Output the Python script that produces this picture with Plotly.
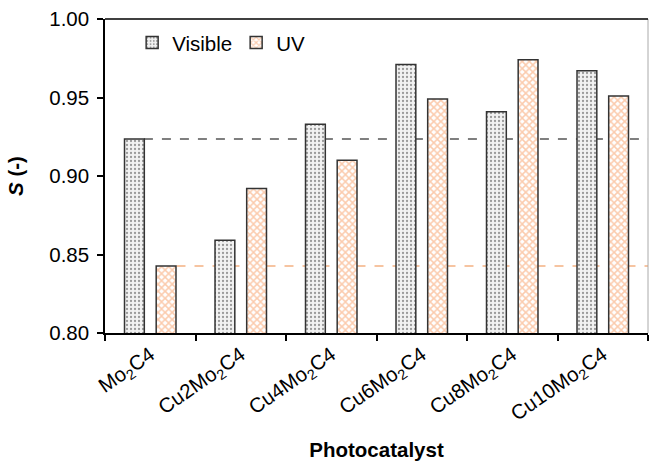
import plotly.graph_objects as go

categories = ["Mo<sub>2</sub>C4", "Cu2Mo<sub>2</sub>C4", "Cu4Mo<sub>2</sub>C4",
              "Cu6Mo<sub>2</sub>C4", "Cu8Mo<sub>2</sub>C4", "Cu10Mo<sub>2</sub>C4"]
visible = [0.9236, 0.859, 0.933, 0.971, 0.941, 0.967]
uv = [0.8427, 0.892, 0.910, 0.949, 0.974, 0.951]
y_ticks = [0.80, 0.85, 0.90, 0.95, 1.00]

FONT = "Liberation Sans, Arial, sans-serif"
FS = 20.5

fig = go.Figure()
fig.add_trace(go.Bar(
    name="Visible", x=categories, y=visible,
    marker=dict(color="#e6e6e6", line=dict(color="#333333", width=1.5),
                pattern=dict(shape=".", fgcolor="#9a9a9a", bgcolor="#f2f2f2",
                             size=4, solidity=0.25, fillmode="replace")),
))
fig.add_trace(go.Bar(
    name="UV", x=categories, y=uv,
    marker=dict(color="#fbd0b4", line=dict(color="#333333", width=1.5),
                pattern=dict(shape="x", fgcolor="#fbcbad", bgcolor="#ffffff",
                             size=5, solidity=0.5, fillmode="replace")),
))

# reference dashed lines at Mo2C4 levels
fig.add_shape(type="line", xref="x", yref="y", x0=-0.07, x1=5.5,
              y0=visible[0], y1=visible[0],
              line=dict(color="#555555", width=1.5, dash="dash"), layer="below")
fig.add_shape(type="line", xref="x", yref="y", x0=0.29, x1=5.5,
              y0=uv[0], y1=uv[0],
              line=dict(color="#f4b183", width=1.5, dash="dash"), layer="below")
# right border (light grey)
fig.add_shape(type="line", xref="paper", yref="paper", x0=1, x1=1, y0=0, y1=1,
              line=dict(color="#aaaaaa", width=1))
# top border
fig.add_shape(type="line", xref="paper", yref="paper", x0=0, x1=1, y0=1, y1=1,
              line=dict(color="black", width=1.5))

fig.update_layout(
    width=649, height=461,
    margin=dict(l=105, r=1, t=19, b=128),
    paper_bgcolor="white", plot_bgcolor="white",
    font=dict(family=FONT, size=FS, color="black"),
    barmode="group", bargap=0.30, bargroupgap=0.375,
    showlegend=True,
    legend=dict(orientation="h", x=0.05, y=0.988, xanchor="left", yanchor="top",
                bgcolor="rgba(0,0,0,0)", font=dict(size=FS),
                entrywidth=59, entrywidthmode="pixels"),
    xaxis=dict(
        tickmode="array", tickvals=categories, ticktext=categories,
        tickangle=-35, tickson="boundaries", ticks="outside", ticklen=6,
        tickcolor="black", tickwidth=1.5, automargin=False,
        showline=True, linecolor="black", linewidth=1.5, mirror=False,
        showgrid=False, range=[-0.5, 5.5],
        title=dict(text="<b>Photocatalyst</b>", font=dict(size=FS), standoff=35),
    ),
    yaxis=dict(
        range=[0.80, 1.00], tickmode="array", tickvals=y_ticks,
        ticktext=[f"{v:.2f}" for v in y_ticks], automargin=False,
        ticks="outside", ticklen=6, tickcolor="black", tickwidth=1.5,
        ticklabelstandoff=4,
        showline=True, linecolor="black", linewidth=1.5,
        showgrid=False, zeroline=False,
        title=dict(text="<b><i>S</i> (-)</b>", font=dict(size=FS), standoff=20),
    ),
)

fig.write_html("out.html")
